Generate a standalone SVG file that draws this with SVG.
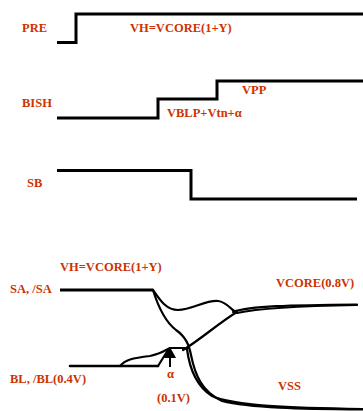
<svg xmlns="http://www.w3.org/2000/svg" width="363" height="411" viewBox="0 0 363 411">
<style>
.lbl{font-family:"Liberation Serif","Times New Roman",serif;font-weight:bold;font-size:12.5px;fill:#cc3300}
.sig{fill:none;stroke:#000;stroke-width:3;stroke-linejoin:miter}
.crv{fill:none;stroke:#000;stroke-width:2.2;stroke-linecap:round;stroke-linejoin:round}
</style>
<rect width="363" height="411" fill="#fff"/>
<g id="PRE">
<path class="sig" d="M57,42.5 H76 V14 H363"/>
<text class="lbl" x="22" y="32">PRE</text>
<text class="lbl" x="130" y="32">VH=VCORE(1+Υ)</text>
</g>
<g id="BISH">
<path class="sig" d="M57,118 H158 V99 H217 V81 H363"/>
<text class="lbl" x="22" y="107">BISH</text>
<text class="lbl" x="242" y="94">VPP</text>
<text class="lbl" x="167" y="117">VBLP+Vtn+α</text>
</g>
<g id="SB">
<path class="sig" d="M57,170.5 H191 V199 H357"/>
<text class="lbl" x="27" y="187">SB</text>
</g>
<g id="SA">
<path class="sig" d="M60,290 H153"/>
<text class="lbl" x="60" y="271">VH=VCORE(1+Υ)</text>
<text class="lbl" x="10" y="293">SA, /SA</text>
<text class="lbl" x="276" y="287">VCORE(0.8V)</text>
</g>
<g id="BL">
<path class="crv" d="M70,366 H158" style="stroke-width:2.6"/>
<text class="lbl" x="10" y="383">BL, /BL(0.4V)</text>
<text class="lbl" x="167" y="378">α</text>
<text class="lbl" x="157" y="402">(0.1V)</text>
<text class="lbl" x="278" y="390">VSS</text>
</g>
<g id="connectors">
<path class="crv" d="M153,290 C160,300 166,310 178,310 C192,310 205,300 218,301 C228,302 232,312 237,312"/>
<path class="crv" d="M233,312 C250,306 290,305 357,304.5"/>
<path class="crv" d="M237,313 C260,308 300,306 357,305"/>
<path class="crv" d="M153,290 C157,303 163,320 176,330 C186,337 189,345 191,355 C195,375 202,392 222,401 C250,408 300,409 363,409.5"/>
<path class="crv" d="M187,349 C189,365 195,385 212,396 C235,406 290,408 363,409"/>
<path class="crv" d="M183,350 C200,340 220,322 237,312"/>
<path class="crv" d="M120,366 C125,360 132,358 150,356 C160,354 166,350 170,348 L188,348"/>
<path class="crv" d="M158,366 L168,350"/>
<path d="M170,347 L164,358 L176,358 Z" fill="#000"/>
<path d="M170,356 V367" stroke="#000" stroke-width="2"/>
</g>
</svg>
